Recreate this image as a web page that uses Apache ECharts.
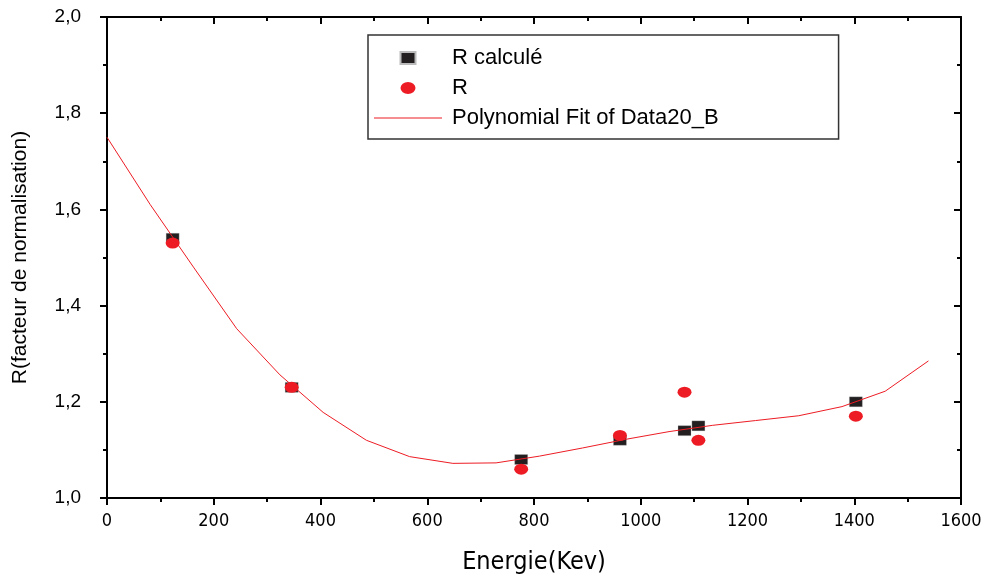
<!DOCTYPE html>
<html>
<head>
<meta charset="utf-8">
<script src="https://cdn.jsdelivr.net/npm/echarts@6/dist/echarts.min.js"></script>
<style>html,body{margin:0;padding:0;background:#fff}#c{width:988px;height:576px}</style>
</head>
<body>
<div id="c"></div>
<script>
const energyPoints = [123, 346, 776, 961, 1082, 1108, 1403];
const rCalcule = [1.54, 1.23, 1.08, 1.12, 1.14, 1.15, 1.20];
const rMeasured = [1.53, 1.23, 1.06, 1.13, 1.22, 1.12, 1.17];
const fitEnergy = [0, 81, 162, 243, 324, 405, 486, 567, 648, 729, 810, 891, 972, 1053, 1134, 1215, 1296, 1377, 1458, 1539];
const fitValues = [1.75, 1.61, 1.48, 1.352, 1.256, 1.178, 1.12, 1.086, 1.072, 1.073, 1.087, 1.104, 1.122, 1.138, 1.151, 1.161, 1.171, 1.19, 1.222, 1.285];
const seriesNames = ['R calculé', 'R', 'Polynomial Fit of Data20_B'];
const xTitle = 'Energie(Kev)';
const yTitle = 'R(facteur de normalisation)';

const FONT = "'Liberation Sans', Arial, sans-serif";
const NARROW = "'Liberation Sans Narrow', 'DejaVu Sans Condensed', 'Liberation Sans', sans-serif";
const lineStyle = {color: '#000', width: 2};
const fmtY = v => v.toFixed(1).replace('.', ',');
const fmtX = v => String(Math.round(v));

const chart = echarts.init(document.getElementById('c'), null, {renderer: 'canvas'});
chart.setOption({
  animation: false,
  backgroundColor: '#fff',
  grid: {left: 107, right: 27, top: 17, bottom: 78, containLabel: false, outerBoundsMode: 'none'},
  legend: {
    orient: 'vertical',
    left: 368, top: 35,
    data: [
      {name: seriesNames[0], icon: 'path://M0,0h15v12h-15z', itemStyle: {color: '#231f20', opacity: 1}},
      {name: seriesNames[1], icon: 'path://M0,6a7.5,6 0 1,0 15,0a7.5,6 0 1,0 -15,0z', itemStyle: {color: '#ed1c24', opacity: 1}},
      {name: seriesNames[2], icon: 'path://M0,0h68v1.2h-68z', itemStyle: {color: '#ed1c24', opacity: 1}}
    ],
    symbolKeepAspect: true,
    itemWidth: 68, itemHeight: 12, itemGap: 8,
    padding: [12, 120, 10, 6],
    borderColor: '#333', borderWidth: 1.5,
    textStyle: {fontFamily: FONT, fontSize: 22, color: '#000', padding: [0, 0, 0, 5], lineHeight: 22}
  },
  xAxis: [
    {type: 'value', min: 0, max: 1600, interval: 200, position: 'bottom',
     axisLine: {show: true, onZero: false, lineStyle},
     axisTick: {show: true, inside: false, length: 7, lineStyle},
     minorTick: {show: true, splitNumber: 2, length: 4, lineStyle: {color: '#000', width: 2}},
     splitLine: {show: false},
     axisLabel: {fontFamily: NARROW, fontSize: 18, color: '#000', margin: 14, formatter: fmtX},
     name: xTitle, nameLocation: 'middle', nameGap: 52,
     nameTextStyle: {fontFamily: NARROW, fontSize: 25, color: '#000'}},
    {type: 'value', min: 0, max: 1600, interval: 200, position: 'top',
     axisLine: {show: true, onZero: false, lineStyle},
     axisTick: {show: true, inside: true, length: 7, lineStyle},
     minorTick: {show: true, splitNumber: 2, length: 4, lineStyle: {color: '#000', width: 2}},
     splitLine: {show: false}, axisLabel: {show: false}}
  ],
  yAxis: [
    {type: 'value', min: 1.0, max: 2.0, interval: 0.2, position: 'left',
     axisLine: {show: true, onZero: false, lineStyle},
     axisTick: {show: true, inside: false, length: 7, lineStyle},
     minorTick: {show: true, splitNumber: 2, length: 4, lineStyle: {color: '#000', width: 2}},
     splitLine: {show: false},
     axisLabel: {fontFamily: FONT, fontSize: 19, color: '#000', margin: 26, formatter: fmtY},
     name: yTitle, nameLocation: 'middle', nameGap: 76,
     nameTextStyle: {fontFamily: FONT, fontSize: 21, color: '#000'}},
    {type: 'value', min: 1.0, max: 2.0, interval: 0.2, position: 'right',
     axisLine: {show: true, onZero: false, lineStyle},
     axisTick: {show: true, inside: true, length: 7, lineStyle},
     minorTick: {show: true, splitNumber: 2, length: 4, lineStyle: {color: '#000', width: 2}},
     splitLine: {show: false}, axisLabel: {show: false}}
  ],
  series: [
    {name: seriesNames[0], type: 'scatter', symbol: 'rect', symbolSize: [13, 10], z: 2,
     itemStyle: {color: '#231f20', opacity: 1, borderColor: '#bbb', borderWidth: 0.3},
     data: energyPoints.map((e, i) => [e, rCalcule[i]])},
    {name: seriesNames[1], type: 'scatter', symbol: 'circle', symbolSize: [14, 11], z: 3,
     itemStyle: {color: '#ed1c24', opacity: 1},
     data: energyPoints.map((e, i) => [e, rMeasured[i]])},
    {name: seriesNames[2], type: 'line', showSymbol: false, symbol: 'none', z: 4,
     lineStyle: {color: '#ed1c24', width: 1}, itemStyle: {color: '#ed1c24'},
     data: fitEnergy.map((e, i) => [e, fitValues[i]])}
  ]
});
</script>
</body>
</html>
